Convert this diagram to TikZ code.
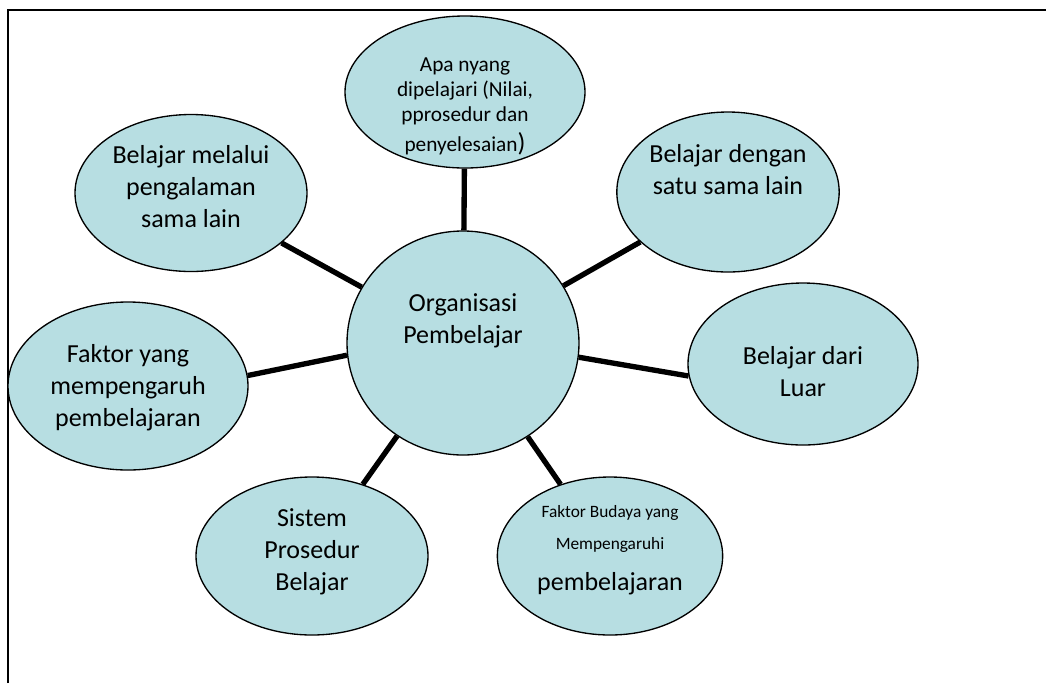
\documentclass[tikz,border=0pt]{standalone}
\usepackage{fontspec}
\setmainfont{Carlito}
\usetikzlibrary{shapes.geometric}
\definecolor{bubfill}{RGB}{183,222,226}
\newcommand\mainsz{\fontsize{19.5}{24}\selectfont}
\newcommand\midsz{\fontsize{16}{18.75}\selectfont}
\newcommand\smlsz{\fontsize{13}{24}\selectfont}
\newcommand\bubtxt[2]{\raisebox{#1}[0pt][0pt]{\begin{tabular}{@{}c@{}}#2\end{tabular}}}

\begin{document}
\begin{tikzpicture}[x=0.75pt,y=-0.75pt,
        bub/.style 2 args={ellipse, draw, line width=1pt, fill=bubfill, inner sep=0pt,
            minimum width=#1, minimum height=#2, font=\mainsz},
        link/.style={line width=4pt}]
        \useasboundingbox (0,0) rectangle (1046,683);
        % Frame
        \draw[line width=1.5pt] (8,683) -- (8,10) -- (1046,10);
        % Centre
        \node[bub={174pt}{168pt}] (org) at (463,343) {\bubtxt{11.5pt}{Organisasi\\Pembelajar}};
        % Outer bubbles
        \node[bub={180pt}{114pt}, font=\midsz] (apa) at (465,92)
            {\bubtxt{-15.25pt}{Apa nyang\\dipelajari (Nilai,\\pprosedur dan\\[2.5pt]penyelesaian{\mainsz)}}};
        \node[bub={165pt}{120pt}] (dgn) at (728,192) {\bubtxt{9.7pt}{Belajar dengan\\satu sama lain}};
        \node[bub={174pt}{117.75pt}] (mel) at (191,193) {\bubtxt{-2pt}{Belajar melalui\\pengalaman\\sama lain}};
        \node[bub={172.5pt}{121.5pt}] (luar) at (803,364) {\bubtxt{-12.8pt}{Belajar dari\\Luar}};
        \node[bub={180pt}{126pt}] (fkt) at (128,386) {\bubtxt{-6.8pt}{Faktor yang\\mempengaruh\\pembelajaran}};
        \node[bub={174pt}{118.5pt}] (sis) at (312,556) {\bubtxt{-2pt}{Sistem\\Prosedur\\Belajar}};
        \node[bub={169pt}{118.5pt}, font=\smlsz] (bud) at (610,556)
            {\bubtxt{3.4pt}{Faktor Budaya yang\\Mempengaruhi\\[6.75pt]\mainsz pembelajaran}};
        % Spokes
        \foreach \n in {apa, dgn, mel, sis, bud}
            \draw[link] (org) -- (\n);
        \draw[link] (org.186) -- (fkt.5);
        \draw[link] (org.353) -- (luar.186);
    \end{tikzpicture}
\end{document}
